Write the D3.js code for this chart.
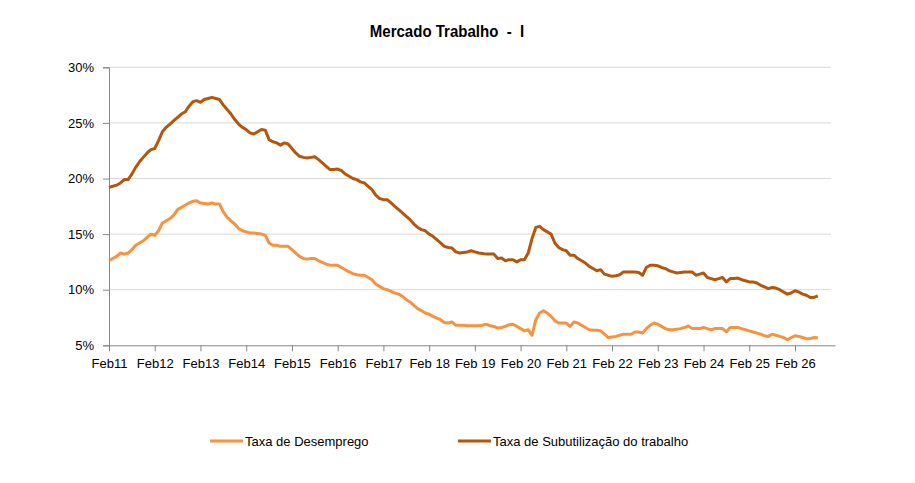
<!doctype html>
<html>
<head>
<meta charset="utf-8">
<title>Mercado Trabalho - I</title>
<script src="https://cdn.jsdelivr.net/npm/d3@7"></script>
<style>
  html, body { margin: 0; padding: 0; background: #fff; }
  #chart svg { display: block; }
  text { font-family: "Liberation Sans", Arial, sans-serif; fill: #000; }
</style>
</head>
<body>
<div id="chart"></div>
<script>
// monthly series, first point = Feb 2011
var desemprego = [
  12.6, 12.8, 13.0, 13.3, 13.2, 13.3, 13.6, 14.0, 14.2, 14.4, 14.7, 15.0,
  14.9, 15.3, 16.0, 16.2, 16.4, 16.7, 17.2, 17.4, 17.6, 17.8, 17.95, 18.0,
  17.8, 17.75, 17.7, 17.8, 17.7, 17.7, 17.0, 16.5, 16.2, 15.9, 15.5, 15.3,
  15.2, 15.1, 15.1, 15.05, 15.0, 14.9, 14.2, 14.0, 14.0, 13.9, 13.9, 13.9,
  13.6, 13.3, 13.0, 12.8, 12.75, 12.8, 12.8, 12.6, 12.45, 12.3, 12.2, 12.2,
  12.2, 12.0, 11.8, 11.6, 11.45, 11.35, 11.3, 11.3, 11.1, 10.9, 10.5, 10.3,
  10.1, 10.0, 9.85, 9.7, 9.6, 9.4, 9.1, 8.9, 8.6, 8.3, 8.1, 7.9,
  7.8, 7.6, 7.45, 7.3, 7.05, 7.0, 7.1, 6.8, 6.8, 6.8, 6.75, 6.75,
  6.75, 6.75, 6.8, 6.9, 6.75, 6.7, 6.55, 6.6, 6.7, 6.85, 6.9, 6.7,
  6.5, 6.3, 6.4, 5.9, 7.3, 7.9, 8.1, 7.9, 7.6, 7.2, 7.0, 7.0,
  7.0, 6.7, 7.1, 7.0, 6.8, 6.6, 6.4, 6.35, 6.35, 6.3, 6.0, 5.7,
  5.75, 5.8, 5.9, 6.0, 6.0, 6.0, 6.2, 6.2, 6.1, 6.5, 6.8, 7.0,
  6.9, 6.7, 6.5, 6.4, 6.4, 6.45, 6.5, 6.6, 6.75, 6.5, 6.5, 6.5,
  6.6, 6.5, 6.4, 6.5, 6.5, 6.5, 6.2, 6.6, 6.6, 6.6, 6.5, 6.4,
  6.3, 6.2, 6.1, 6.0, 5.85, 5.8, 6.0, 5.9, 5.8, 5.7, 5.5, 5.7,
  5.85, 5.8, 5.7, 5.6, 5.6, 5.7, 5.65
]

var subutilizacao = [
  19.2, 19.3, 19.4, 19.6, 19.9, 19.9, 20.4, 21.0, 21.5, 21.9, 22.3, 22.6,
  22.7, 23.4, 24.2, 24.6, 24.9, 25.2, 25.5, 25.8, 26.0, 26.5, 26.9, 27.0,
  26.85, 27.1, 27.2, 27.3, 27.2, 27.1, 26.6, 26.2, 25.8, 25.3, 24.9, 24.6,
  24.4, 24.1, 24.0, 24.2, 24.4, 24.35, 23.5, 23.3, 23.2, 23.0, 23.2, 23.1,
  22.7, 22.3, 22.0, 21.9, 21.85, 21.9, 21.95, 21.7, 21.4, 21.1, 20.8, 20.8,
  20.85, 20.7, 20.4, 20.2, 20.0, 19.9, 19.7, 19.6, 19.3, 19.0, 18.5, 18.2,
  18.1, 18.1, 17.8, 17.5, 17.2, 16.9, 16.6, 16.3, 15.9, 15.6, 15.4, 15.3,
  15.0, 14.8, 14.5, 14.2, 13.9, 13.8, 13.75, 13.4, 13.3, 13.35, 13.4, 13.5,
  13.4, 13.3, 13.25, 13.2, 13.2, 13.2, 12.8, 12.85, 12.6, 12.7, 12.7, 12.5,
  12.7, 12.7, 13.3, 14.6, 15.6, 15.7, 15.4, 15.2, 15.0, 14.2, 13.8, 13.6,
  13.5, 13.1, 13.1, 12.8, 12.6, 12.4, 12.1, 11.9, 11.7, 11.8, 11.4, 11.3,
  11.2, 11.25, 11.35, 11.6, 11.6, 11.6, 11.6, 11.55, 11.3, 12.0, 12.2, 12.2,
  12.15, 12.0, 11.9, 11.7, 11.6, 11.5, 11.55, 11.6, 11.6, 11.6, 11.3, 11.4,
  11.5, 11.1, 11.0, 10.9, 11.0, 11.1, 10.7, 11.0, 11.0, 11.05, 10.9, 10.8,
  10.7, 10.7, 10.6, 10.4, 10.25, 10.1, 10.2, 10.15, 10.0, 9.8, 9.6, 9.7,
  9.9, 9.8, 9.6, 9.5, 9.3, 9.3, 9.45
]

var xTickMonths = [0, 12, 24, 36, 48, 60, 72, 84, 96, 108, 120, 132, 144, 156, 168, 180]
var xTickLabels = ["Feb11", "Feb12", "Feb13", "Feb14", "Feb15", "Feb16", "Feb17", "Feb 18",
  "Feb 19", "Feb 20", "Feb 21", "Feb 22", "Feb 23", "Feb 24", "Feb 25", "Feb 26"]
var yTicks = [5, 10, 15, 20, 25, 30]

var seriesNames = ["Taxa de Desemprego", "Taxa de Subutilização do trabalho"]
var seriesColors = ["#F7923F", "#B5560D"]

document.addEventListener("DOMContentLoaded", function () {
  var W = 915, H = 483
  var left = 109, right = 835, top = 67.3, bottom = 345.3
  var font = "\"Liberation Sans\", Arial, sans-serif"

  var svg = d3.select("#chart").append("svg")
    .attr("width", W)
    .attr("height", H)

  var x = d3.scaleLinear().domain([0, 190.5]).range([left, right])
  var y = d3.scaleLinear().domain([5, 30]).range([bottom, top])

  // title (narrow bold look: squeeze horizontally a little)
  svg.append("text")
    .attr("transform", "translate(447,37) scale(0.94,1)")
    .attr("text-anchor", "middle")
    .style("font-size", "16px")
    .style("font-weight", "bold")
    .style("white-space", "pre")
    .text("Mercado Trabalho  -  I")

  // gridlines
  svg.append("g")
    .selectAll("line")
    .data(yTicks.slice(1))
    .join("line")
    .attr("x1", left)
    .attr("x2", 831)
    .attr("y1", function (d) { return y(d) })
    .attr("y2", function (d) { return y(d) })
    .style("stroke", "#d9d9d9")
    .style("stroke-width", 1)

  // y axis
  var yAxis = svg.append("g")
    .attr("transform", "translate(" + left + ",0)")
    .call(d3.axisLeft(y).tickValues(yTicks).tickSize(6).tickPadding(9)
      .tickFormat(function (d) { return d + "%" }))
  yAxis.select(".domain").style("stroke", "#868686")
  yAxis.selectAll(".tick line").style("stroke", "#868686")
  yAxis.selectAll("text").style("font-size", "13px").style("fill", "#000")
    .style("font-family", font)

  // x axis
  var xAxis = svg.append("g")
    .attr("transform", "translate(0," + bottom + ")")
    .call(d3.axisBottom(x).tickValues(xTickMonths).tickSize(6).tickPadding(7.5)
      .tickSizeOuter(0)
      .tickFormat(function (d, i) { return xTickLabels[i] }))
  xAxis.select(".domain").style("stroke", "#868686")
  xAxis.selectAll(".tick line").style("stroke", "#868686")
  xAxis.selectAll("text").style("font-size", "13px").style("fill", "#000")
    .style("font-family", font)

  // lines
  var line = d3.line()
    .x(function (d, i) { return x(i) })
    .y(function (d) { return y(d) })

  ;[desemprego, subutilizacao].forEach(function (series, k) {
    svg.append("path")
      .datum(series)
      .attr("d", line)
      .style("fill", "none")
      .style("stroke", seriesColors[k])
      .style("stroke-width", 3)
      .style("stroke-linejoin", "round")
  })

  // legend
  var legendX = [210, 458]
  var legend = svg.append("g")
    .selectAll("g")
    .data(seriesNames)
    .join("g")
    .attr("transform", function (d, i) { return "translate(" + legendX[i] + ",441)" })

  legend.append("line")
    .attr("x1", 0)
    .attr("x2", 33)
    .style("stroke", function (d, i) { return seriesColors[i] })
    .style("stroke-width", 3)

  legend.append("text")
    .attr("x", 35)
    .attr("y", 4.5)
    .style("font-size", "13px")
    .text(function (d) { return d })
})
</script>
</body>
</html>
